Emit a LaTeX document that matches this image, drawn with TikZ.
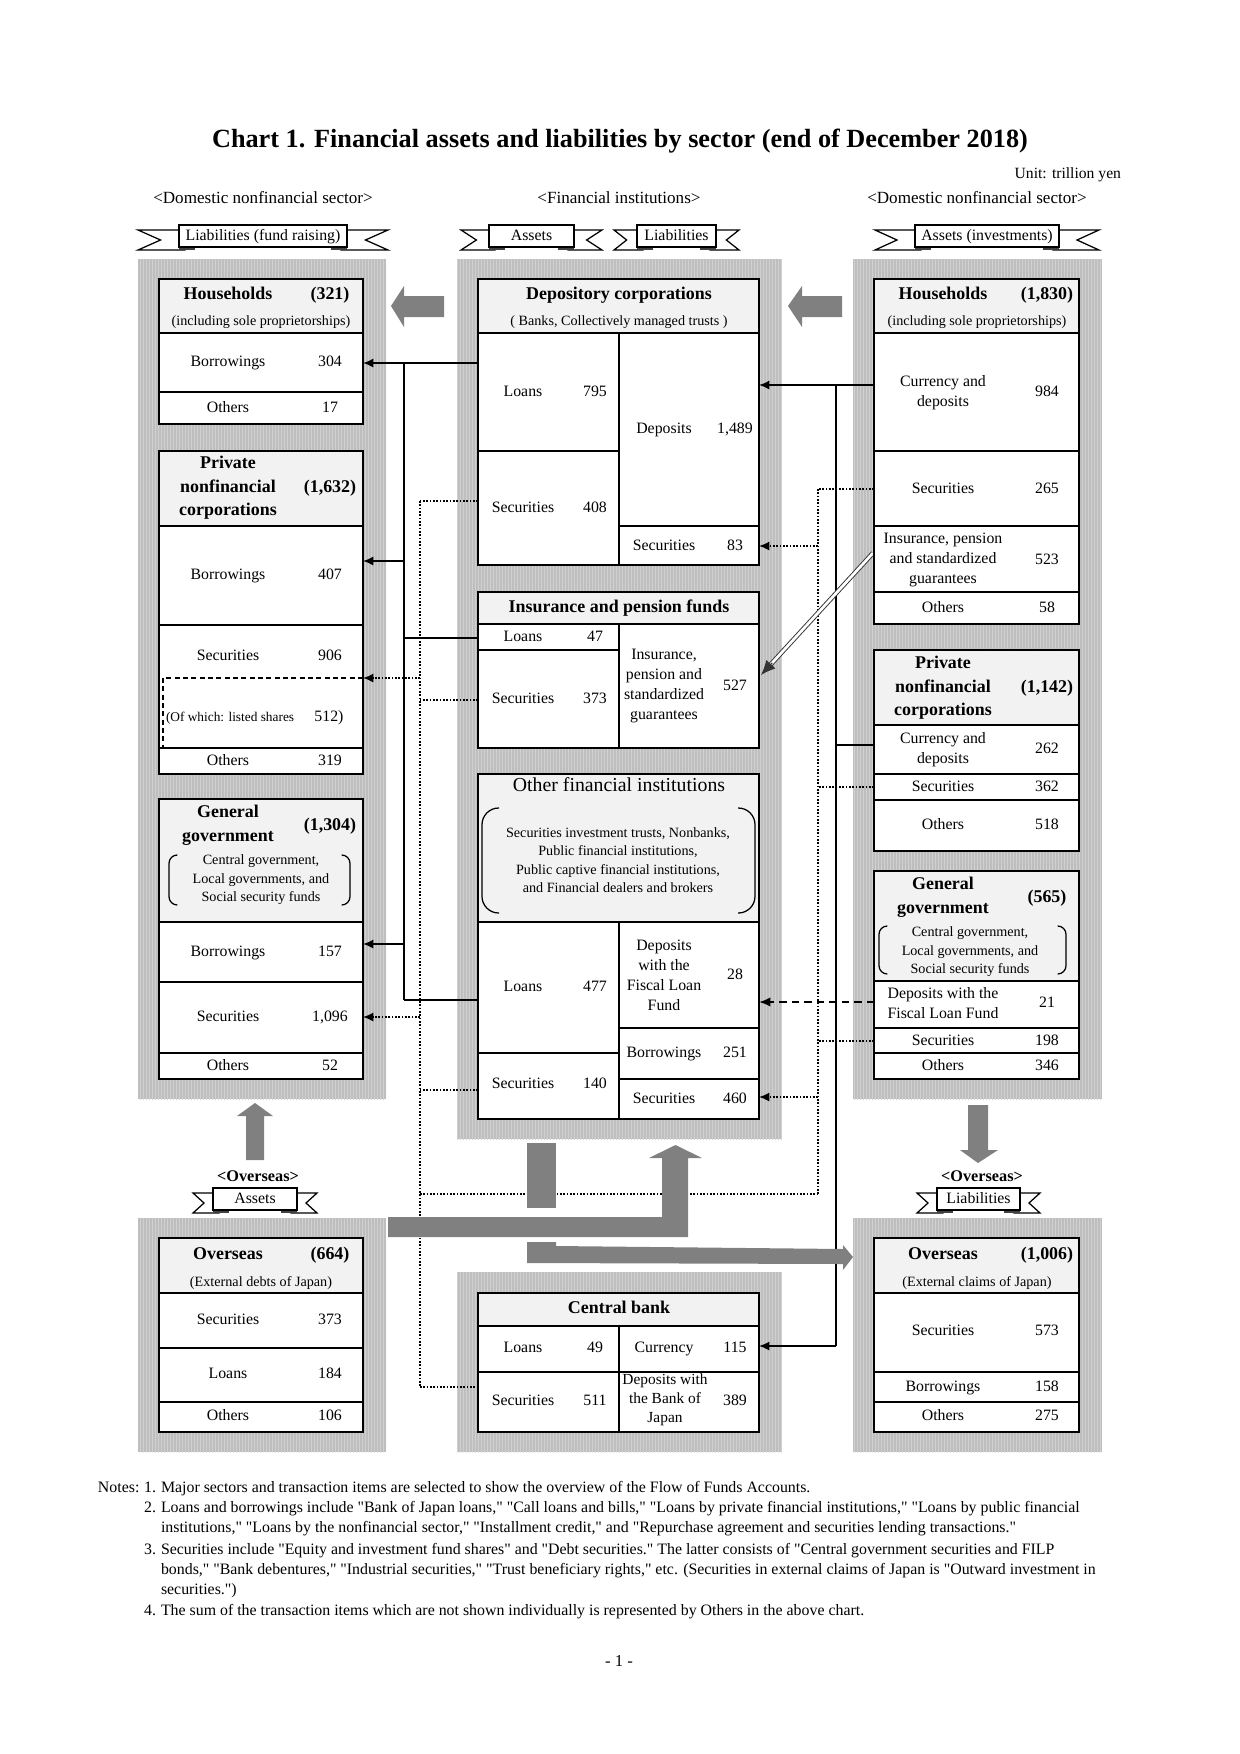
\documentclass[tikz,border=0pt]{standalone}
\usepackage{fontspec}
\setmainfont{Liberation Serif}[Ligatures=TeXOff]
\usetikzlibrary{arrows.meta,calc,patterns.meta}
\definecolor{colgray}{RGB}{190,190,190}
\definecolor{stripe}{RGB}{212,212,212}
\definecolor{hdrfill}{RGB}{242,242,242}
\definecolor{bigarrow}{RGB}{128,128,128}
\tikzdeclarepattern{name=vstripes,type=uncolored,bounding box={(0pt,0pt) and (1.6pt,1pt)},tile size={(1.6pt,1pt)},code={\draw[line width=0.45pt] (0.8pt,-0.2pt) -- (0.8pt,1.2pt);}}
\newcommand\graycol[4]{\fill[colgray] (#1,#2) rectangle (#3,#4);\fill[pattern=vstripes,pattern color=stripe] (#1,#2) rectangle (#3,#4);}
\newcommand\boxbg[5]{\fill[white] (#1,#2) rectangle (#3,#4);\fill[hdrfill] (#1,#2) rectangle (#3,#5);}
\newcommand\mkbanner[6]{%
\begin{scope}[shift={(#1,#2)}]
\draw[fill=white,line width=0.6pt] ({-#3-#4},-6) -- ({-#3+6},-6) -- ({-#3+6},14) -- ({-#3-#4},14) -- ({-#3-0.45*#4},4) -- cycle;
\draw[fill=white,line width=0.6pt] ({#3+#4},-6) -- ({#3-6},-6) -- ({#3-6},14) -- ({#3+#4},14) -- ({#3+0.45*#4},4) -- cycle;
\fill[black!75] ({-#3},6) rectangle ({-#3+16},14);
\fill[black!75] ({#3-16},6) rectangle ({#3},14);
\draw[fill=white,line width=0.7pt] ({-#3},-11) rectangle ({#3},11);
\node[bantxt] (#6) at (0,0) {#5};
\end{scope}}
\tikzset{
  base/.style={inner sep=0pt,outer sep=0pt},
  itm/.style={base,font=\fontsize{7.6}{9.6}\selectfont,anchor=mid},
  mitm/.style={base,font=\fontsize{7.6}{9.6}\selectfont,anchor=center,align=center},
  hdr/.style={base,font=\bfseries\fontsize{8.6}{11.3}\selectfont,anchor=mid},
  mhdr/.style={base,font=\bfseries\fontsize{8.6}{11.3}\selectfont,anchor=center,align=center},
  sub/.style={base,font=\fontsize{6.8}{8.9}\selectfont,anchor=mid},
  msub/.style={base,font=\fontsize{6.8}{8.9}\selectfont,anchor=center,align=center},
  bantxt/.style={base,font=\fontsize{7.6}{9}\selectfont,anchor=mid},
  sect/.style={base,font=\fontsize{8.2}{10}\selectfont,anchor=mid},
  ovs/.style={base,font=\bfseries\fontsize{7.8}{10}\selectfont,anchor=mid},
  note/.style={base,font=\fontsize{7.62}{9}\selectfont,anchor=mid west},
  outer/.style={line width=1pt},
  inner/.style={line width=0.6pt},
  thickline/.style={line width=1.2pt},
  conn/.style={line width=0.8pt},
  arr/.style={conn,-{Latex[length=5pt,width=4.4pt]}},
  dot/.style={line width=0.8pt,dash pattern=on 0.8pt off 0.8pt},
  dotarr/.style={dot,-{Latex[length=5pt,width=4.4pt]}},
  dsharr/.style={line width=1pt,dash pattern=on 3.4pt off 2.6pt,-{Latex[length=5.5pt,width=4.6pt]}},
  lsdash/.style={line width=0.6pt,dash pattern=on 2.4pt off 1.6pt},
  dbl/.style={draw=black!80,line width=0.45pt,double=white,double distance=1.3pt},
  bigarr/.style={fill=bigarrow,draw=none},
  paren/.style={line width=0.6pt,rounded corners=4pt}
}
\begin{document}
\begin{tikzpicture}[x=0.48pt,y=-0.48pt]
\useasboundingbox[fill=white] (0,0) rectangle (1240,1754);

% ---------- headings ----------
\node[base,font=\bfseries\fontsize{12.6}{15}\selectfont,anchor=mid] (title) at (620,143) {Chart 1. Financial assets and liabilities by sector (end of December 2018)};
\node[base,font=\fontsize{7.5}{9}\selectfont,anchor=mid east] (unit) at (1121,174) {Unit: trillion yen};
\node[sect] (secL) at (263,199) {<Domestic nonfinancial sector>};
\node[sect] (secC) at (619,199) {<Financial institutions>};
\node[sect] (secR) at (977,199) {<Domestic nonfinancial sector>};
\mkbanner{263}{236}{84}{41}{Liabilities (fund raising)}{banL}
\mkbanner{531.5}{236}{42.5}{28}{Assets}{banCA}
\mkbanner{676.5}{236}{39.5}{23}{Liabilities}{banCL}
\mkbanner{987}{236}{72}{40}{Assets (investments)}{banR}

% ---------- gray columns ----------
\graycol{138}{259}{386}{1099}
\graycol{457}{259}{782}{1139}
\graycol{853}{259}{1102}{1099}
\graycol{138}{1218}{386}{1452}
\graycol{457}{1272}{782}{1452}
\graycol{853}{1218}{1102}{1452}

% ---------- connectors ----------
\coordinate (LsolTop) at (404,363); \coordinate (LsolBot) at (404,1000);
\coordinate (depLoanW) at (478,363); \coordinate (lhhBorE) at (363,363);
\coordinate (jL2) at (404,561); \coordinate (lpnBorE) at (363,561);
\coordinate (insLoanW) at (478,638); \coordinate (jL3) at (404,638);
\coordinate (jL4) at (404,944); \coordinate (lggBorE) at (363,944);
\coordinate (ofiLoanW) at (478,1000);
\draw[conn] (LsolTop) -- (LsolBot);
\draw[arr] (depLoanW) -- (lhhBorE);
\draw[arr] (jL2) -- (lpnBorE);
\draw[conn] (insLoanW) -- (jL3);
\draw[arr] (jL4) -- (lggBorE);
\draw[conn] (ofiLoanW) -- (LsolBot);
\coordinate (LdotTop) at (420,501); \coordinate (LdotBot) at (420,1387);
\coordinate (depSecW) at (478,501);
\coordinate (jD1) at (420,678); \coordinate (lpnSecE) at (363,678);
\coordinate (insSecW) at (478,700); \coordinate (jD2) at (420,700);
\coordinate (jD3) at (420,1017); \coordinate (lggSecE) at (363,1017);
\coordinate (ofiSecW) at (478,1090); \coordinate (jD4) at (420,1090);
\coordinate (jD5) at (420,1194); \coordinate (RdotBot) at (818,1194);
\coordinate (cbSecW) at (478,1387);
\draw[dot] (LdotTop) -- (LdotBot);
\draw[dot] (depSecW) -- (LdotTop);
\draw[dotarr] (jD1) -- (lpnSecE);
\draw[dot] (insSecW) -- (jD2);
\draw[dotarr] (jD3) -- (lggSecE);
\draw[dot] (ofiSecW) -- (jD4);
\draw[dot] (jD5) -- (RdotBot);
\draw[dot] (LdotBot) -- (cbSecW);
\coordinate (RsolTop) at (836,385); \coordinate (RsolBot) at (836,1346);
\coordinate (rhhCurW) at (874,385); \coordinate (depDepE) at (759,385);
\coordinate (rpnCurW) at (874,745); \coordinate (jR2) at (836,745);
\coordinate (cbCurE) at (759,1346);
\draw[conn] (RsolTop) -- (RsolBot);
\draw[arr] (rhhCurW) -- (depDepE);
\draw[conn] (rpnCurW) -- (jR2);
\draw[arr] (RsolBot) -- (cbCurE);
\coordinate (RdotTop) at (818,489); \coordinate (rhhSecW) at (874,489);
\coordinate (jE1) at (818,546); \coordinate (depSec2E) at (759,546);
\coordinate (rpnSecW) at (874,787); \coordinate (jE2) at (818,787);
\coordinate (rggSecW) at (874,1041); \coordinate (jE3) at (818,1041);
\coordinate (jE4) at (818,1097); \coordinate (ofiSec2E) at (759,1097);
\draw[dot] (RdotTop) -- (RdotBot);
\draw[dot] (rhhSecW) -- (RdotTop);
\draw[dotarr] (jE1) -- (depSec2E);
\draw[dot] (rpnSecW) -- (jE2);
\draw[dot] (rggSecW) -- (jE3);
\draw[dotarr] (jE4) -- (ofiSec2E);
\coordinate (rggFlfW) at (874,1002); \coordinate (ofiFlfE) at (759,1002);
\draw[dsharr] (rggFlfW) -- (ofiFlfE);
\coordinate (rhhInsW) at (873,553); \coordinate (insInsE) at (761,675);
\draw[dbl] (rhhInsW) -- ($(rhhInsW)!0.92!(insInsE)$);
\draw[black!80,line width=0.5pt,-{Latex[length=7pt,width=6pt]}] ($(rhhInsW)!0.9!(insInsE)$) -- (insInsE);

% ---------- big gray arrows ----------
\fill[bigarr] (391,306) -- (404,286) -- (404,296) -- (444,296) -- (444,317) -- (404,317) -- (404,327) -- cycle;
\fill[bigarr] (788,306) -- (802,286) -- (802,296) -- (842,296) -- (842,317) -- (802,317) -- (802,327) -- cycle;
\fill[bigarr] (255,1103) -- (273,1116) -- (264,1116) -- (264,1160) -- (246,1160) -- (246,1116) -- (237,1116) -- cycle;
\fill[bigarr] (978,1163) -- (998,1150) -- (988,1150) -- (988,1105) -- (968,1105) -- (968,1150) -- (960,1150) -- cycle;
\fill[bigarr] (388,1217) -- (662,1217) -- (662,1158) -- (649,1158) -- (675.5,1145) -- (702,1158) -- (688,1158) -- (688,1237) -- (388,1237) -- cycle;
\fill[bigarr] (527,1143) rectangle (556,1208);
\fill[bigarr] (527,1242) -- (556,1242) -- (556,1246) -- (843,1249) -- (843,1245) -- (853,1257) -- (843,1270) -- (843,1264) -- (527,1263) -- cycle;

% ---------- LEFT: Households ----------
\boxbg{159}{279}{363}{424}{333}
\draw[inner] (159,333) -- (363,333) (159,392) -- (363,392);
\draw[outer] (159,279) rectangle (363,424);
\node[hdr] (lhhT) at (228,295) {Households};
\node[hdr] (lhhV) at (330,295) {(321)};
\node[sub] (lhhS) at (261,321) {(including sole proprietorships)};
\node[itm] (lhhB) at (228,362) {Borrowings}; \node[itm] (lhhBv) at (330,362) {304};
\node[itm] (lhhO) at (228,408) {Others}; \node[itm] (lhhOv) at (330,408) {17};

% ---------- LEFT: Private nonfinancial corporations ----------
\boxbg{159}{451}{363}{774}{526}
\draw[inner] (159,526) -- (363,526) (159,625) -- (363,625) (159,748) -- (363,748);
\draw[outer] (159,451) rectangle (363,774);
\node[mhdr] (lpnT) at (228,488) {Private\\nonfinancial\\corporations};
\node[hdr] (lpnV) at (330,488) {(1,632)};
\node[itm] (lpnB) at (228,575) {Borrowings}; \node[itm] (lpnBv) at (330,575) {407};
\node[itm] (lpnS) at (228,656) {Securities}; \node[itm] (lpnSv) at (330,656) {906};
\draw[lsdash] (lpnSecE) -- (163,678) -- (163,748);
\node[base,font=\fontsize{6.4}{8}\selectfont,anchor=mid west] (lpnL) at (166,717) {(Of which: listed shares};
\node[itm] (lpnLv) at (329,717) {512)};
\node[itm] (lpnO) at (228,761) {Others}; \node[itm] (lpnOv) at (330,761) {319};

% ---------- LEFT: General government ----------
\boxbg{159}{799}{363}{1079}{922}
\draw[inner] (159,922) -- (363,922) (159,982) -- (363,982) (159,1053) -- (363,1053);
\draw[outer] (159,799) rectangle (363,1079);
\node[mhdr] (lggT) at (228,825) {General\\government};
\node[hdr] (lggV) at (330,826) {(1,304)};
\node[msub] (lggS) at (261,880) {Central government,\\Local governments, and\\Social security funds};
\draw[paren] (177,855) -- (169,855) -- (169,905) -- (177,905);
\draw[paren] (342,855) -- (350,855) -- (350,905) -- (342,905);
\node[itm] (lggB) at (228,952) {Borrowings}; \node[itm] (lggBv) at (330,952) {157};
\node[itm] (lggSe) at (228,1017) {Securities}; \node[itm] (lggSev) at (330,1017) {1,096};
\node[itm] (lggO) at (228,1066) {Others}; \node[itm] (lggOv) at (330,1066) {52};

% ---------- CENTER: Depository corporations ----------
\boxbg{478}{279}{759}{565}{333}
\draw[inner] (478,333) -- (759,333) (619,333) -- (619,565) (478,451) -- (619,451) (619,526) -- (759,526);
\draw[outer] (478,279) rectangle (759,565);
\node[hdr] (depT) at (619,295) {Depository corporations};
\node[sub] (depS) at (619,321) {( Banks, Collectively managed trusts )};
\node[itm] (depL) at (523,392) {Loans}; \node[itm] (depLv) at (595,392) {795};
\node[itm] (depSe) at (523,508) {Securities}; \node[itm] (depSev) at (595,508) {408};
\node[itm] (depD) at (664,429) {Deposits}; \node[itm] (depDv) at (735,429) {1,489};
\node[itm] (depS2) at (664,546) {Securities}; \node[itm] (depS2v) at (735,546) {83};

% ---------- CENTER: Insurance and pension funds ----------
\boxbg{478}{592}{759}{748}{624}
\draw[thickline] (478,624) -- (759,624);
\draw[inner] (619,624) -- (619,748) (478,650) -- (619,650);
\draw[outer] (478,592) rectangle (759,748);
\node[hdr] (insT) at (619,608) {Insurance and pension funds};
\node[itm] (insL) at (523,637) {Loans}; \node[itm] (insLv) at (595,637) {47};
\node[itm] (insS) at (523,699) {Securities}; \node[itm] (insSv) at (595,699) {373};
\node[mitm] (insI) at (664,686) {Insurance,\\pension and\\standardized\\guarantees};
\node[itm] (insIv) at (735,686) {527};

% ---------- CENTER: Other financial institutions ----------
\boxbg{478}{774}{759}{1119}{922}
\draw[inner] (478,922) -- (759,922) (619,922) -- (619,1119) (478,1053) -- (619,1053) (619,1028) -- (759,1028) (619,1079) -- (759,1079);
\draw[outer] (478,774) rectangle (759,1119);
\node[base,font=\fontsize{9.5}{11}\selectfont,anchor=mid] (ofiT) at (619,787) {Other financial institutions};
\node[msub] (ofiS) at (618,860) {Securities investment trusts, Nonbanks,\\Public financial institutions,\\Public captive financial institutions,\\and Financial dealers and brokers};
\draw[line width=0.6pt,rounded corners=8pt] (499,808) -- (482,808) -- (482,913) -- (499,913);
\draw[line width=0.6pt,rounded corners=8pt] (738,808) -- (755,808) -- (755,913) -- (738,913);
\node[itm] (ofiL) at (523,987) {Loans}; \node[itm] (ofiLv) at (595,987) {477};
\node[itm] (ofiSe) at (523,1084) {Securities}; \node[itm] (ofiSev) at (595,1084) {140};
\node[mitm] (ofiF) at (664,975) {Deposits\\with the\\Fiscal Loan\\Fund};
\node[itm] (ofiFv) at (735,975) {28};
\node[itm] (ofiB) at (664,1053) {Borrowings}; \node[itm] (ofiBv) at (735,1053) {251};
\node[itm] (ofiS2) at (664,1099) {Securities}; \node[itm] (ofiS2v) at (735,1099) {460};

% ---------- CENTER: Central bank ----------
\boxbg{478}{1293}{759}{1432}{1326}
\draw[inner] (478,1326) -- (759,1326) (619,1326) -- (619,1432) (478,1372) -- (759,1372);
\draw[outer] (478,1293) rectangle (759,1432);
\node[hdr] (cbT) at (619,1309) {Central bank};
\node[itm] (cbL) at (523,1348) {Loans}; \node[itm] (cbLv) at (595,1348) {49};
\node[itm] (cbC) at (664,1348) {Currency}; \node[itm] (cbCv) at (735,1348) {115};
\node[itm] (cbS) at (523,1401) {Securities}; \node[itm] (cbSv) at (595,1401) {511};
\node[mitm,font=\fontsize{7.4}{9.1}\selectfont] (cbD) at (665,1400) {Deposits with\\the Bank of\\Japan};
\node[itm] (cbDv) at (735,1401) {389};

% ---------- RIGHT: Households ----------
\boxbg{874}{279}{1079}{624}{333}
\draw[inner] (874,333) -- (1079,333) (874,451) -- (1079,451) (874,526) -- (1079,526) (874,592) -- (1079,592);
\draw[outer] (874,279) rectangle (1079,624);
\node[hdr] (rhhT) at (943,295) {Households};
\node[hdr] (rhhV) at (1047,295) {(1,830)};
\node[sub] (rhhS) at (977,321) {(including sole proprietorships)};
\node[mitm] (rhhC) at (943,393) {Currency and\\deposits}; \node[itm] (rhhCv) at (1047,392) {984};
\node[itm] (rhhSe) at (943,489) {Securities}; \node[itm] (rhhSev) at (1047,489) {265};
\node[mitm] (rhhI) at (943,560) {Insurance, pension\\and standardized\\guarantees}; \node[itm] (rhhIv) at (1047,560) {523};
\node[itm] (rhhO) at (943,608) {Others}; \node[itm] (rhhOv) at (1047,608) {58};

% ---------- RIGHT: Private nonfinancial corporations ----------
\boxbg{874}{650}{1079}{851}{725}
\draw[inner] (874,725) -- (1079,725) (874,774) -- (1079,774) (874,800) -- (1079,800);
\draw[outer] (874,650) rectangle (1079,851);
\node[mhdr] (rpnT) at (943,688) {Private\\nonfinancial\\corporations};
\node[hdr] (rpnV) at (1047,688) {(1,142)};
\node[mitm] (rpnC) at (943,750) {Currency and\\deposits}; \node[itm] (rpnCv) at (1047,749) {262};
\node[itm] (rpnS) at (943,787) {Securities}; \node[itm] (rpnSv) at (1047,787) {362};
\node[itm] (rpnO) at (943,825) {Others}; \node[itm] (rpnOv) at (1047,825) {518};

% ---------- RIGHT: General government ----------
\boxbg{874}{871}{1079}{1079}{981}
\draw[inner] (874,981) -- (1079,981) (874,1028) -- (1079,1028) (874,1053) -- (1079,1053);
\draw[outer] (874,871) rectangle (1079,1079);
\node[mhdr] (rggT) at (943,897) {General\\government};
\node[hdr] (rggV) at (1047,898) {(565)};
\node[msub] (rggS) at (970,952) {Central government,\\Local governments, and\\Social security funds};
\draw[paren] (887,926) -- (879,926) -- (879,974) -- (887,974);
\draw[paren] (1058,926) -- (1066,926) -- (1066,974) -- (1058,974);
\node[mitm] (rggF) at (943,1003) {Deposits with the\\Fiscal Loan Fund}; \node[itm] (rggFv) at (1047,1003) {21};
\node[itm] (rggS2) at (943,1041) {Securities}; \node[itm] (rggS2v) at (1047,1041) {198};
\node[itm] (rggO) at (943,1066) {Others}; \node[itm] (rggOv) at (1047,1066) {346};

% ---------- Overseas labels ----------
\node[ovs] (ovL) at (258,1177) {<Overseas>};
\node[ovs] (ovR) at (982,1177) {<Overseas>};
\mkbanner{255}{1199}{42}{20}{Assets}{banOL}
\mkbanner{978.5}{1199}{41.5}{20}{Liabilities}{banOR}

% ---------- Overseas (left) ----------
\boxbg{159}{1238}{363}{1432}{1293}
\draw[thickline] (159,1293) -- (363,1293);
\draw[inner] (159,1348) -- (363,1348) (159,1402) -- (363,1402);
\draw[outer] (159,1238) rectangle (363,1432);
\node[hdr] (olT) at (228,1255) {Overseas}; \node[hdr] (olV) at (330,1255) {(664)};
\node[sub] (olS) at (261,1282) {(External debts of Japan)};
\node[itm] (olSe) at (228,1320) {Securities}; \node[itm] (olSev) at (330,1320) {373};
\node[itm] (olL) at (228,1374) {Loans}; \node[itm] (olLv) at (330,1374) {184};
\node[itm] (olO) at (228,1416) {Others}; \node[itm] (olOv) at (330,1416) {106};

% ---------- Overseas (right) ----------
\boxbg{874}{1238}{1079}{1432}{1293}
\draw[thickline] (874,1293) -- (1079,1293);
\draw[inner] (874,1372) -- (1079,1372) (874,1402) -- (1079,1402);
\draw[outer] (874,1238) rectangle (1079,1432);
\node[hdr] (orT) at (943,1255) {Overseas}; \node[hdr] (orV) at (1047,1255) {(1,006)};
\node[sub] (orS) at (977,1282) {(External claims of Japan)};
\node[itm] (orSe) at (943,1331) {Securities}; \node[itm] (orSev) at (1047,1331) {573};
\node[itm] (orB) at (943,1387) {Borrowings}; \node[itm] (orBv) at (1047,1387) {158};
\node[itm] (orO) at (943,1416) {Others}; \node[itm] (orOv) at (1047,1416) {275};

% ---------- Notes ----------
\node[note] (notesLbl) at (98,1488) {Notes:};
\node[note,anchor=mid east] (n1num) at (156,1488) {1.};
\node[note] (n1) at (161,1488) {Major sectors and transaction items are selected to show the overview of the Flow of Funds Accounts.};
\node[note,anchor=mid east] (n2num) at (156,1508) {2.};
\node[note] (n2a) at (161,1508) {Loans and borrowings include "Bank of Japan loans," "Call loans and bills," "Loans by private financial institutions," "Loans by public financial};
\node[note] (n2b) at (161,1528) {institutions," "Loans by the nonfinancial sector," "Installment credit," and "Repurchase agreement and securities lending transactions."};
\node[note,anchor=mid east] (n3num) at (156,1550) {3.};
\node[note] (n3a) at (161,1550) {Securities include "Equity and investment fund shares" and "Debt securities." The latter consists of "Central government securities and FILP};
\node[note] (n3b) at (161,1570) {bonds," "Bank debentures," "Industrial securities," "Trust beneficiary rights," etc. (Securities in external claims of Japan is "Outward investment in};
\node[note] (n3c) at (161,1590) {securities.")};
\node[note,anchor=mid east] (n4num) at (156,1611) {4.};
\node[note] (n4) at (161,1611) {The sum of the transaction items which are not shown individually is represented by Others in the above chart.};
\node[base,font=\fontsize{8}{10}\selectfont,anchor=mid] (pageno) at (619,1662) {- 1 -};
\end{tikzpicture}
\end{document}
